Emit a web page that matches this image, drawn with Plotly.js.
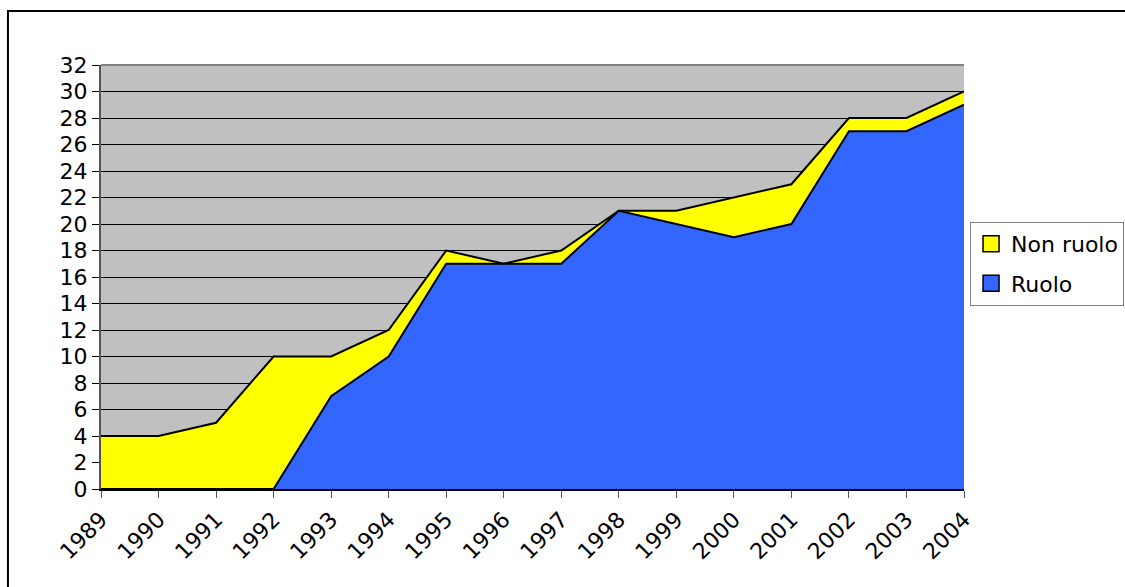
<!DOCTYPE html>
<html>
<head>
<meta charset="utf-8">
<script src="https://cdn.plot.ly/plotly-3.0.1.min.js"></script>
<style>html,body{margin:0;padding:0;background:#fff;}#chart{width:1125px;height:587px;}</style>
</head>
<body>
<div id="chart"></div>
<script>
const years = [1989,1990,1991,1992,1993,1994,1995,1996,1997,1998,1999,2000,2001,2002,2003,2004];
const ruolo = [0,0,0,0,7,10,17,17,17,21,20,19,20,27,27,29];
const nonRuolo = [4,4,5,10,3,2,1,0,1,0,1,3,3,1,1,1];
const yTicks = [0,2,4,6,8,10,12,14,16,18,20,22,24,26,28,30,32];
const seriesNames = ['Ruolo', 'Non ruolo'];
const seriesColors = ['#3366FF', '#FFFF00'];

const font = {family: 'DejaVu Sans, Verdana, sans-serif', size: 22, color: '#000'};

const traces = [
  {x: years, y: ruolo, name: seriesNames[0], type: 'scatter', mode: 'lines', stackgroup: 'a',
   fillcolor: seriesColors[0], line: {color: '#000', width: 2}, showlegend: false},
  {x: years, y: nonRuolo, name: seriesNames[1], type: 'scatter', mode: 'lines', stackgroup: 'a',
   fillcolor: seriesColors[1], line: {color: '#000', width: 2}, showlegend: false},
  {x: [null], y: [null], name: seriesNames[1], type: 'scatter', mode: 'markers', legendgroup: 'g1',
   marker: {symbol: 'square', size: 16, color: seriesColors[1], line: {color: '#000', width: 1.5}}},
  {x: [null], y: [null], name: seriesNames[0], type: 'scatter', mode: 'markers', legendgroup: 'g2',
   marker: {symbol: 'square', size: 16, color: seriesColors[0], line: {color: '#000', width: 1.5}}}
];

const layout = {
  width: 1125, height: 587,
  margin: {l: 101, r: 161, t: 65, b: 98, autoexpand: false},
  paper_bgcolor: '#fff', plot_bgcolor: '#C0C0C0',
  showlegend: true,
  font: font,
  xaxis: {type: 'linear', range: [1989, 2004], tickvals: years, ticktext: years.map(String),
          tickangle: -45, ticks: 'outside', ticklen: 7, tickcolor: '#555', showgrid: false,
          zeroline: false, showline: true, linecolor: '#000', linewidth: 2, tickfont: font,
          automargin: false},
  yaxis: {range: [0, 32], tickvals: yTicks, ticks: 'outside', ticklen: 7, tickcolor: '#000',
          showgrid: true, gridcolor: '#000', gridwidth: 1, zeroline: false,
          showline: true, linecolor: '#555', linewidth: 2, tickfont: font, automargin: false},
  legend: {x: 1.007, y: 0.63, xanchor: 'left', yanchor: 'top', traceorder: 'grouped',
           bgcolor: '#fff', bordercolor: '#808080', borderwidth: 1, font: font,
           itemwidth: 30, tracegroupgap: 8},
  shapes: [
    {type: 'line', xref: 'paper', yref: 'paper', x0: 0, x1: 1, y0: 1, y1: 1,
     line: {color: '#808080', width: 2}},
    {type: 'rect', xref: 'paper', yref: 'paper', x0: -0.1078, x1: 1.2, y0: -0.24, y1: 1.1274,
     line: {color: '#000', width: 2}, fillcolor: 'rgba(0,0,0,0)', layer: 'below'}
  ]
};

Plotly.newPlot('chart', traces, layout, {displayModeBar: false, staticPlot: true});
</script>
</body>
</html>
